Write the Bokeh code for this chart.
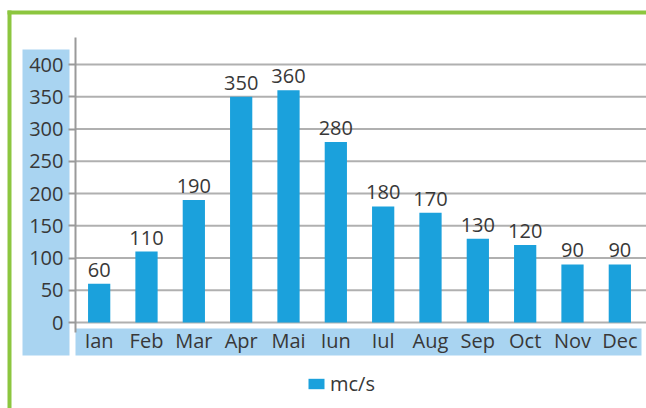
import numpy as np
from bokeh.plotting import figure
from bokeh.models import (ColumnDataSource, FixedTicker, Range1d,
                          BoxAnnotation, Legend, LegendItem)
from bokeh.core.properties import value
from bokeh.embed import file_html
from bokeh.resources import INLINE

months = ["Ian", "Feb", "Mar", "Apr", "Mai", "Iun", "Iul", "Aug", "Sep", "Oct", "Nov", "Dec"]
flow = [60, 110, 190, 350, 360, 280, 180, 170, 130, 120, 90, 90]
y_ticks = [0, 50, 100, 150, 200, 250, 300, 350, 400]
series_name = "mc/s"

FONT = "Open Sans"
FSIZE = "20px"
TXT = "#383838"
BAR = "#1ba1dc"
PANEL = "#a9d4f1"
GREEN = "#8cc63f"
GRID = "#b0b0b0"

W, H = 646, 408
# plot-area geometry in canvas pixels
AX_LEFT, AX_RIGHT = 75, 643      # category band
Y0_PX, Y400_PX = 322, 64         # pixel rows of value 0 and 400
AX_TOP_PX, AX_BOT_PX = 37, 332   # extent of the vertical axis line
XLAB_PX = 326                    # top of the month-label text boxes

xs = np.arange(len(months))
cat_w = (AX_RIGHT - AX_LEFT) / len(months)
x_lo = -0.5
x_hi = len(months) - 0.5
ppu = (Y0_PX - Y400_PX) / 400.0

x_range = Range1d(x_lo - AX_LEFT / cat_w, x_hi + (W - AX_RIGHT) / cat_w)
y_range = Range1d(-(H - Y0_PX) / ppu, Y0_PX / ppu)

src = ColumnDataSource(dict(x=xs, flow=flow, label=[str(v) for v in flow]))

p = figure(x_range=x_range, y_range=y_range, width=W, height=H,
           output_backend="svg", toolbar_location=None,
           min_border=0, min_border_left=0, min_border_right=0,
           min_border_top=0, min_border_bottom=0)
p.outline_line_color = None
p.background_fill_color = "white"
p.border_fill_color = "white"
p.xgrid.visible = False
p.ygrid.visible = False

def canvas_box(l, r, t, b, color):
    p.add_layout(BoxAnnotation(left=l, right=r, top=t, bottom=b,
                               left_units="canvas", right_units="canvas",
                               top_units="canvas", bottom_units="canvas",
                               fill_color=color, fill_alpha=1, line_color=None,
                               level="underlay"))

canvas_box(7, W, 10, 14, GREEN)
canvas_box(7, 11, 10, H, GREEN)
canvas_box(22, 69, 49, 355, PANEL)
canvas_box(75, 641, 328, 355, PANEL)

# horizontal grid lines limited to the category band
p.segment(x0=[x_lo] * len(y_ticks), x1=[x_hi + 0.06] * len(y_ticks),
          y0=y_ticks, y1=y_ticks, line_color=GRID, line_width=2)

bars = p.vbar(x="x", top="flow", width=0.47, source=src,
              fill_color=BAR, line_color=None)
p.text(x="x", y="flow", text="label", source=src, text_align="center",
       text_baseline="bottom", y_offset=-7, text_font=value(FONT),
       text_font_size=FSIZE, text_color=TXT)

y_top = (Y0_PX - AX_TOP_PX) / ppu
y_bot = -(AX_BOT_PX - Y0_PX) / ppu

yaxis = p.yaxis[0]
yaxis.fixed_location = x_lo
yaxis.bounds = (y_bot, y_top)
yaxis.ticker = FixedTicker(ticks=y_ticks)
yaxis.minor_tick_line_color = None
yaxis.major_tick_in = 0
yaxis.major_tick_out = 7
yaxis.axis_line_color = "#9a9a9a"
yaxis.axis_line_width = 2
yaxis.major_tick_line_color = "#9a9a9a"
yaxis.major_tick_line_width = 2
yaxis.major_label_standoff = 5

xaxis = p.xaxis[0]
xaxis.fixed_location = -(XLAB_PX - Y0_PX) / ppu
xaxis.bounds = (x_lo, x_hi)
xaxis.ticker = FixedTicker(ticks=list(xs))
xaxis.major_label_overrides = {int(i): m for i, m in zip(xs, months)}
xaxis.axis_line_color = None
xaxis.major_tick_line_color = None
xaxis.minor_tick_line_color = None
xaxis.major_tick_out = 0
xaxis.major_tick_in = 0
xaxis.major_label_standoff = 0

for ax in (xaxis, yaxis):
    ax.major_label_text_font = FONT
    ax.major_label_text_font_size = FSIZE
    ax.major_label_text_color = TXT

legend = Legend(items=[LegendItem(label=series_name, renderers=[bars])],
                location=(306, 11), orientation="horizontal",
                border_line_color=None, background_fill_alpha=0,
                glyph_width=20, glyph_height=13, label_standoff=4,
                padding=0, margin=0,
                label_text_font=FONT, label_text_font_size=FSIZE,
                label_text_color=TXT)
p.add_layout(legend)

open("out.html", "w").write(file_html(p, INLINE))
